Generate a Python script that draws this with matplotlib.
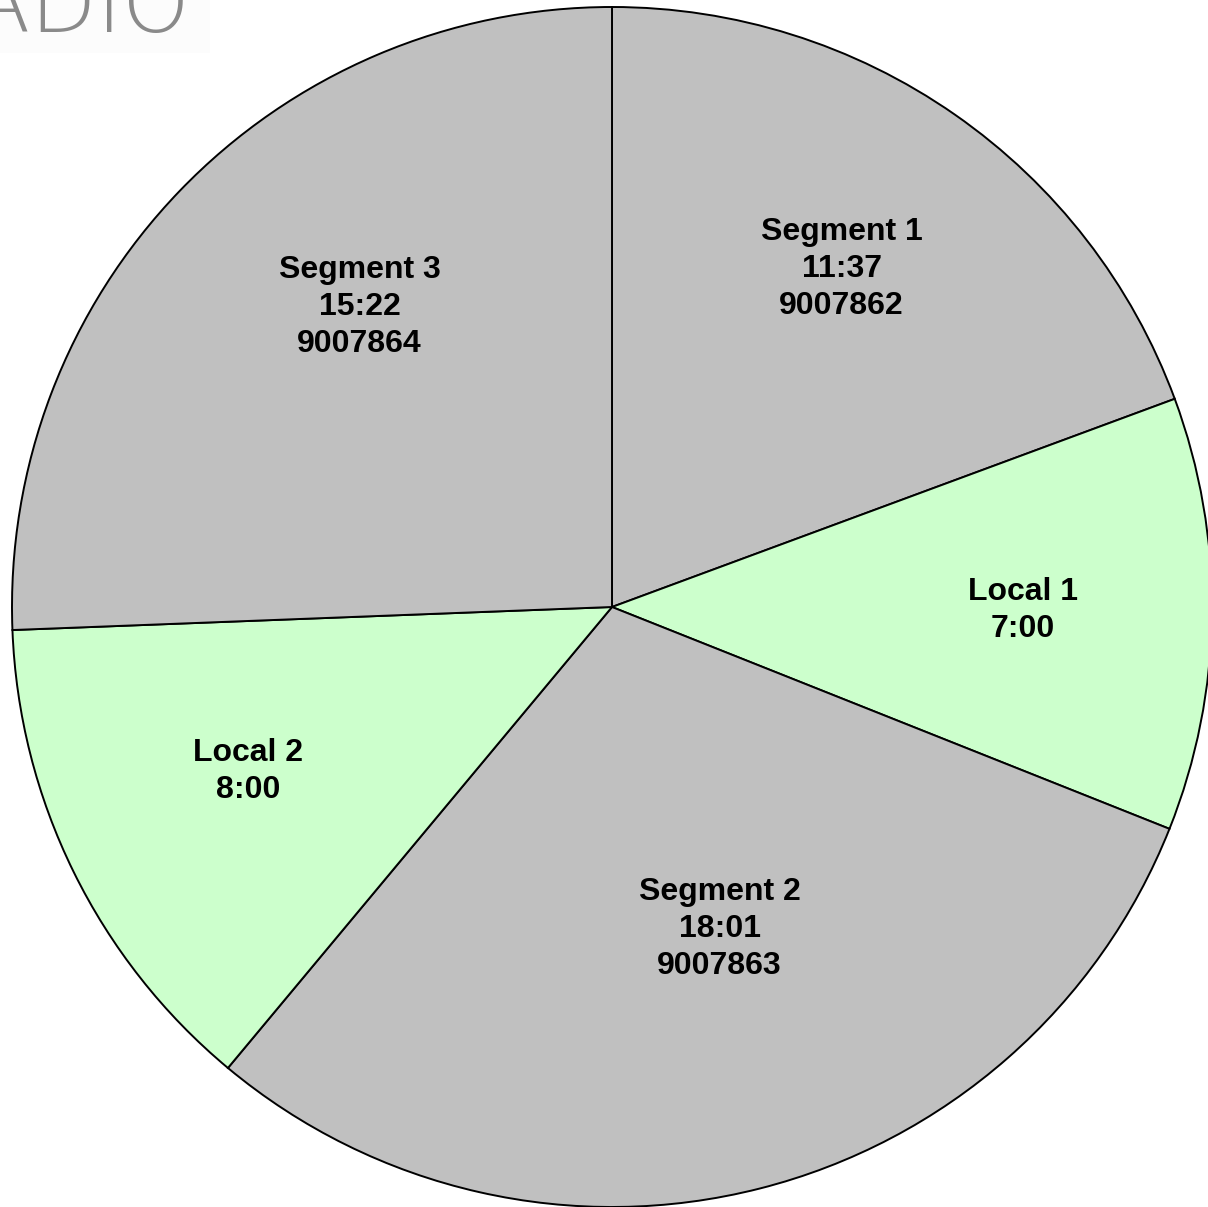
import matplotlib
matplotlib.use("Agg")
import matplotlib.pyplot as plt
import numpy as np
from matplotlib.patches import Rectangle

labels = ["Segment 1", "Local 1", "Segment 2", "Local 2", "Segment 3"]
durations = ["11:37", "7:00", "18:01", "8:00", "15:22"]
ids = ["9007862", "", "9007863", "", "9007864"]
colors = ["#C0C0C0", "#CCFFCC", "#C0C0C0", "#CCFFCC", "#C0C0C0"]

# label layout tweaks (radial fraction, angle offset in degrees, clockwise)
label_r = [0.685, 0.685, 0.561, 0.663, 0.657]
label_dang = [-0.9, -0.6, -4.4, 2.3, 6.3]

def to_sec(s):
    m, sec = s.split(":")
    return int(m) * 60 + int(sec)

values = [to_sec(d) for d in durations]
texts = ["\n".join([l, d] + ([i] if i else [])) for l, d, i in zip(labels, durations, ids)]

W, H = 1208, 1207
fig = plt.figure(figsize=(W / 100, H / 100), dpi=100)
ax = fig.add_axes([0, 0, 1, 1])
R = 600.0
cx, cy = 612.0, 607.0

wedges, _ = ax.pie(values, colors=colors, startangle=90, counterclock=False,
                   wedgeprops=dict(edgecolor="black", linewidth=1.4))
total = float(sum(values))
cum = 0.0
for v, t, r, da in zip(values, texts, label_r, label_dang):
    mid = (cum + v / 2) / total * 360.0 + da  # clockwise from top
    cum += v
    a = np.deg2rad(mid)
    ax.text(r * np.sin(a), r * np.cos(a) - 3 / R, t, ha="center", va="center", fontsize=23,
            fontweight="bold", family=["Liberation Sans", "DejaVu Sans"], linespacing=1.3,
            multialignment="center")

ax.set_xlim(-cx / R, (W - cx) / R)
ax.set_ylim(-(H - cy) / R, cy / R)
ax.set_aspect("equal")
ax.axis("off")

# logo fragment top-left
fig.patches.append(Rectangle((0, 1 - 53 / H), 210 / W, 53 / H, transform=fig.transFigure,
                             facecolor="#FCFCFC", edgecolor="none", zorder=5))
fig.text(190 / W, 1 - 32 / H, "RADIO", ha="right", va="baseline", fontsize=62,
         color="#8A8A8A", family=["DejaVu Sans"], fontweight=200, zorder=6)

fig.savefig("out.png", dpi=100)
